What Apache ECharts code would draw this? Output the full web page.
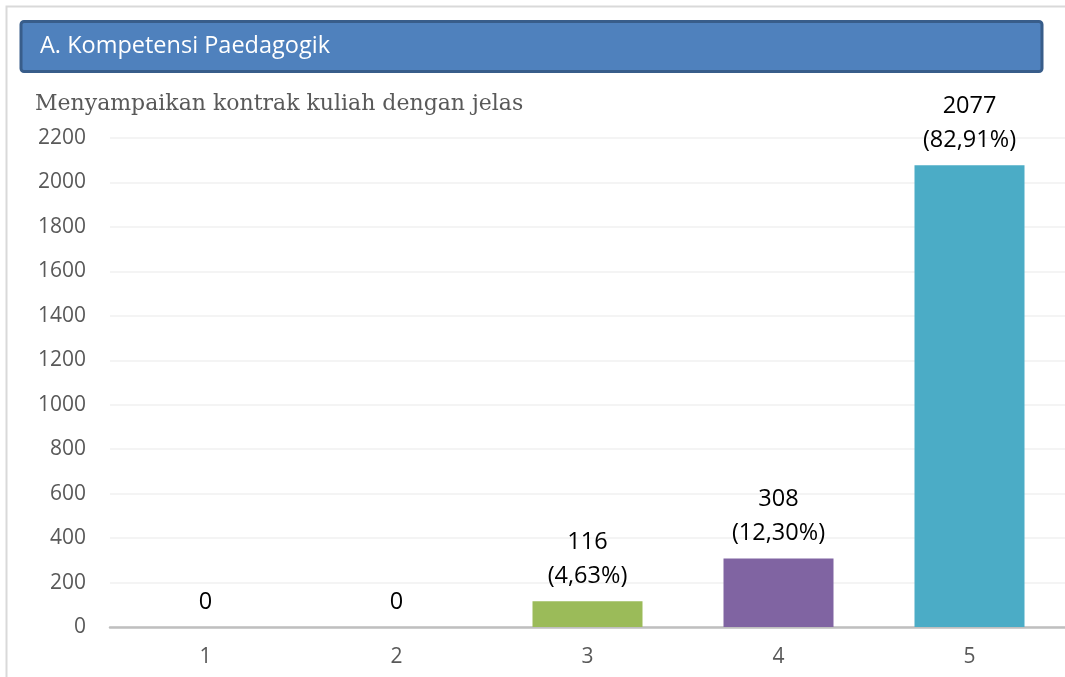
<!DOCTYPE html>
<html>
<head>
<meta charset="utf-8">
<script src="https://cdn.jsdelivr.net/npm/echarts@6/dist/echarts.min.js"></script>
<style>
  html, body { margin: 0; padding: 0; background: #fff; }
  #chart { width: 1065px; height: 677px; }
</style>
</head>
<body>
<div id="chart"></div>
<script>
const categories = ['1', '2', '3', '4', '5'];
const counts = [0, 0, 116, 308, 2077];
const percents = [null, null, '4,63%', '12,30%', '82,91%'];
const barColors = ['#4F81BD', '#C0504D', '#9BBB59', '#8064A2', '#4BACC6'];
const yTicks = [0, 200, 400, 600, 800, 1000, 1200, 1400, 1600, 1800, 2000, 2200];

const chart = echarts.init(document.getElementById('chart'), null, { renderer: 'canvas' });

chart.setOption({
  backgroundColor: '#fff',
  animation: false,
  graphic: [
    {
      type: 'rect',
      shape: { x: 6.5, y: 6.5, width: 1080, height: 700 },
      style: { fill: 'none', stroke: '#D9D9D9', lineWidth: 2 },
      z: 0,
    },
    {
      type: 'rect',
      shape: { x: 21, y: 21.5, width: 1021, height: 50, r: 3 },
      style: { fill: '#4F81BD', stroke: '#385D8A', lineWidth: 3 },
      z: 1,
    },
  ],
  title: [
    {
      text: 'A. Kompetensi Paedagogik',
      left: 35, top: 29,
      textStyle: { color: '#fff', fontFamily: 'Open Sans', fontSize: 23.5, fontWeight: 'normal' },
    },
    {
      text: 'Menyampaikan kontrak kuliah dengan jelas',
      left: 30, top: 88,
      textStyle: { color: '#595959', fontFamily: 'DejaVu Serif', fontSize: 22, fontWeight: 'normal' },
    },
  ],
  grid: { left: 110, right: 0, top: 138, bottom: 50, containLabel: false },
  xAxis: {
    type: 'category',
    data: categories,
    axisLine: { lineStyle: { color: '#BFBFBF', width: 2.5 } },
    axisTick: { show: false },
    axisLabel: { color: '#595959', fontFamily: 'Open Sans', fontSize: 21, margin: 20 },
  },
  yAxis: {
    type: 'value',
    min: yTicks[0],
    max: yTicks[yTicks.length - 1],
    interval: 200,
    axisLine: { show: false },
    axisTick: { show: false },
    splitLine: { lineStyle: { color: '#F0F0F0', width: 1.5 } },
    axisLabel: {
      color: '#595959', fontFamily: 'Open Sans', fontSize: 21, margin: 24,
      formatter: v => String(v),
    },
  },
  series: [{
    type: 'bar',
    barWidth: 110,
    data: counts.map((v, i) => ({ value: v, itemStyle: { color: barColors[i] } })),
    label: {
      show: true,
      position: 'top',
      distance: 8,
      color: '#000',
      fontFamily: 'Open Sans',
      fontSize: 23.5,
      lineHeight: 34,
      formatter: p => percents[p.dataIndex] ? `${p.value}\n(${percents[p.dataIndex]})` : `${p.value}`,
    },
  }],
});
</script>
</body>
</html>
